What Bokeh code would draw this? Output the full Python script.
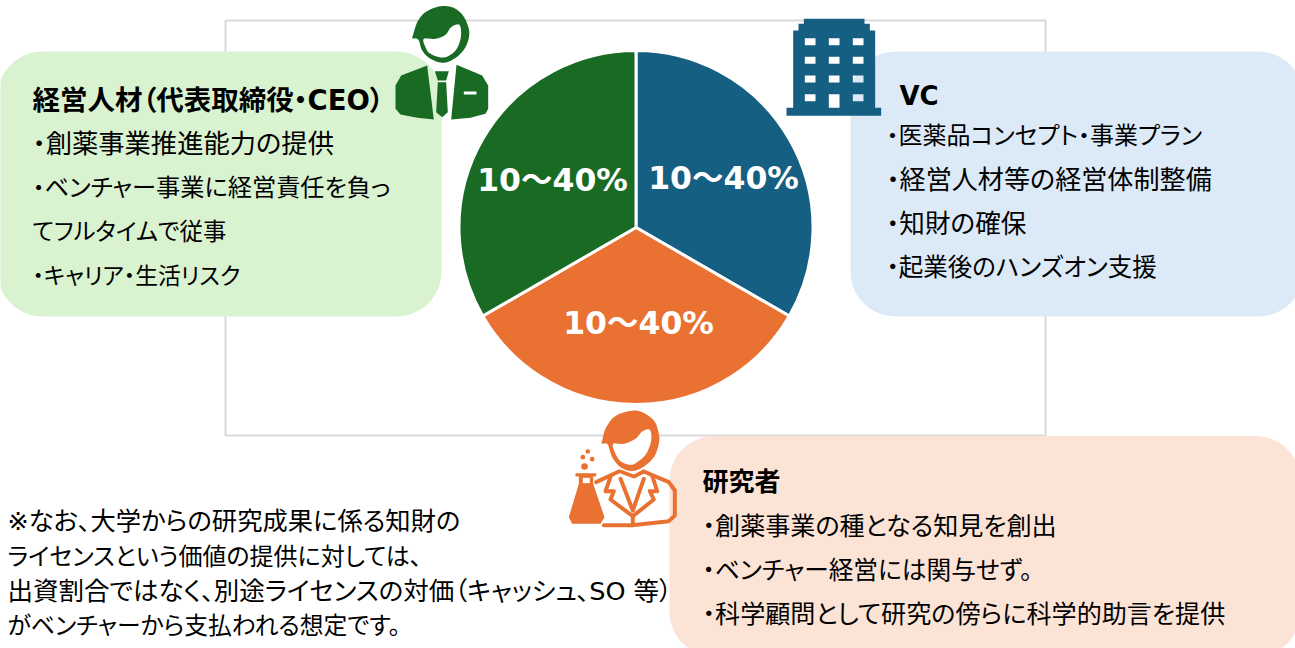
from bokeh.plotting import figure
from bokeh.models import Range1d
from bokeh.core.properties import value
from bokeh.embed import file_html
from bokeh.resources import INLINE
import math

W, H = 1295, 648
JP = "DejaVu Sans, Noto Sans CJK JP"

# ---- data ----
shares = [1, 1, 1]
share_labels = ["10〜40%", "10〜40%", "10〜40%"]
share_colors = ["#156082", "#E97132", "#196B24"]

ceo_title = "経営人材（代表取締役・CEO）"
ceo_lines = ["・創薬事業推進能力の提供", "・ベンチャー事業に経営責任を負っ", "てフルタイムで従事", "・キャリア・生活リスク"]
vc_title = "VC"
vc_lines = ["・医薬品コンセプト・事業プラン", "・経営人材等の経営体制整備", "・知財の確保", "・起業後のハンズオン支援"]
res_title = "研究者"
res_lines = ["・創薬事業の種となる知見を創出", "・ベンチャー経営には関与せず。", "・科学顧問として研究の傍らに科学的助言を提供"]
note_lines = ["※なお、大学からの研究成果に係る知財の", "ライセンスという価値の提供に対しては、",
              "出資割合ではなく、別途ライセンスの対価（キャッシュ、SO 等）", "がベンチャーから支払われる想定です。"]

p = figure(width=W, height=H, x_range=Range1d(0, W), y_range=Range1d(0, H),
           toolbar_location=None, output_backend="svg", min_border=0,
           outline_line_color=None, background_fill_color="white")
p.axis.visible = False
p.grid.visible = False
p.styles = {"font-feature-settings": "'palt' 1"}

Y = lambda v: H - v

def rrect(x0, y0, x1, y1, r, color):
    xs, ys = [], []
    for cx, cy, a0 in [(x1 - r, y0 + r, -90), (x1 - r, y1 - r, 0), (x0 + r, y1 - r, 90), (x0 + r, y0 + r, 180)]:
        for i in range(13):
            a = math.radians(a0 + i * 7.5)
            xs.append(cx + r * math.cos(a)); ys.append(Y(cy + r * math.sin(a)))
    p.patch(xs, ys, fill_color=color, line_color=None)

def smooth(pts, n=8):
    out = []
    m = len(pts)
    for i in range(m):
        p0, p1, p2, p3 = pts[(i - 1) % m], pts[i], pts[(i + 1) % m], pts[(i + 2) % m]
        for k in range(n):
            t = k / n
            f = lambda a, b, c, d: 0.5 * (2 * b + (c - a) * t + (2 * a - 5 * b + 4 * c - d) * t * t + (3 * b - a - 3 * c + d) * t ** 3)
            out.append((f(p0[0], p1[0], p2[0], p3[0]), f(p0[1], p1[1], p2[1], p3[1])))
    return out

def poly(pts, color, ox, oy, curved=False):
    if curved:
        pts = smooth(pts)
    p.patch([ox + a / 3 for a, b in pts], [Y(oy + b / 3) for a, b in pts], fill_color=color, line_color=None)

def stroke(pts, color, ox, oy, w=4):
    p.line([ox + a / 3 for a, b in pts], [Y(oy + b / 3) for a, b in pts], line_color=color, line_width=w,
           line_join="round", line_cap="round")

# frame
p.line([225, 1045, 1045, 225, 225], [Y(20), Y(20), Y(435), Y(435), Y(20)], line_color="#D9D9D9", line_width=2)

# text boxes
rrect(-3, 51, 441, 316, 45, "#D9F2D0")
rrect(850, 51, 1303, 316, 45, "#DCE9F6")
rrect(669, 435.5, 1300, 656, 45, "#FBE3D6")

# pie
cx, cy, rad = 635.5, 227, 177
total = sum(shares)
ang = math.pi / 2
for v, c in zip(shares, share_colors):
    end = ang - v / total * 2 * math.pi
    p.wedge([cx], [Y(cy)], radius=rad, start_angle=end, end_angle=ang, fill_color=c,
            line_color="white", line_width=3)
    ang = end

def txt(x, y, s, size, bold=False, color="#000000", font=JP, align="left"):
    p.text([x], [Y(y)], text=[s], text_font=value(font), text_font_size=f"{size}px",
           text_font_style="bold" if bold else "normal", text_color=color,
           text_baseline="middle", text_align=align)

for (x, y), s in zip([(723, 177), (638, 322), (552, 179)], share_labels):
    txt(x, y, s, 31.5, True, "#FFFFFF", align="center")

txt(32, 99, ceo_title, 27.5, True)
for y, s, z in zip([143, 187, 231, 275], ceo_lines, [26.3, 24.2, 23.4, 22.8]):
    txt(32, y, s, z)
txt(899, 95, vc_title, 26, True)
for y, s, z in zip([135, 179, 223, 267], vc_lines, [24, 26.1, 25.6, 24.5]):
    txt(886, y, s, z)
txt(702, 481, res_title, 26, True)
for y, s, z in zip([526, 570, 614], res_lines, [25.1, 24.7, 25.1]):
    txt(702, y, s, z)
for y, s, z in zip([521, 556, 590, 625], note_lines, [25.3, 24, 25.5, 23.8]):
    txt(7, y, s, z)

# ---- manager icon ----
G = "#196B24"; ox, oy = 380, 0
poly([(95,113),(97,106),(103,85),(113,60),(135,35),(175,18),(215,20),(245,42),(262,75),(266,105),(255,140),(228,170),(190,187),(150,175),(125,150),(116,122),(108,114),(100,114)], G, ox, oy, True)
poly([(130,115),(165,115),(195,103),(212,80),(237,73),(241,110),(225,150),(190,171),(150,160),(135,140)], "#FFFFFF", ox, oy, True)
poly([(140,195),(160,357),(110,352),(60,342),(45,325),(45,255),(62,225)], G, ox, oy)
poly([(228,193),(212,357),(270,352),(315,340),(323,325),(323,255),(305,225)], G, ox, oy)
poly([(163,212),(205,212),(197,240),(172,240)], G, ox, oy)
poly([(172,245),(197,245),(202,335),(185,350),(167,335)], G, ox, oy)
poly([(250,273),(288,273),(288,282),(250,282)], "#FFFFFF", ox, oy)

# ---- building icon ----
B = "#156082"; ox, oy = 770, 0
def bx(a, b): return ox + a / 3, Y(oy + b / 3)
outline = [(100,55),(282,55),(282,70),(298,70),(298,90),(314,90),(314,322),(332,322),(332,346),(48,346),(48,322),(68,322),(68,90),(84,90),(84,70),(100,70)]
holes = []
for i, r in enumerate([113, 169, 225, 281]):
    for c in [103, 175, 247]:
        b = 322 if (c == 175 and r == 281) else r + 21
        holes.append([(c, r), (c + 32, r), (c + 32, b), (c, b)])
p.multi_polygons(xs=[[[[bx(*q)[0] for q in outline]] + [[bx(*q)[0] for q in h] for h in holes]]],
                 ys=[[[[bx(*q)[1] for q in outline]] + [[bx(*q)[1] for q in h] for h in holes]]],
                 fill_color=B, line_color=None)

# ---- researcher icon ----
O = "#E97132"; ox, oy = 555, 400
poly([(137,128),(140,120),(150,85),(175,50),(215,33),(255,33),(295,60),(310,100),(310,130),(295,170),(262,200),(228,212),(195,200),(170,170),(158,134),(150,129),(143,129)], O, ox, oy, True)
poly([(173,130),(205,130),(240,115),(260,93),(283,88),(287,120),(272,160),(245,185),(225,193),(195,182),(178,155)], "#FFFFFF", ox, oy, True)
for pts in [[(122,245),(190,213)], [(195,213),(235,228),(265,213)],
            [(265,213),(340,245),(358,270),(358,345),(340,362),(230,374),(145,374)],
            [(165,230),(150,272),(175,272),(165,297),(232,347),(295,297),(283,272),(305,272),(290,225)],
            [(195,235),(232,330),(265,235)], [(232,347),(232,374)]]:
    stroke(pts, O, ox, oy)
poly([(60,218),(122,218),(122,228),(113,228),(113,250),(147,350),(135,370),(50,370),(40,350),(70,250),(70,228),(60,228)], O, ox, oy)
poly([(82,232),(103,232),(103,248),(82,248)], "#FFFFFF", ox, oy)
for (a, b, r) in [(97,153,7),(82,170,7),(110,176,7),(87,198,10)]:
    p.circle([ox + a / 3], [Y(oy + b / 3)], radius=r / 3, fill_color=O, line_color=None)

open("out.html", "w").write(file_html(p, INLINE))
